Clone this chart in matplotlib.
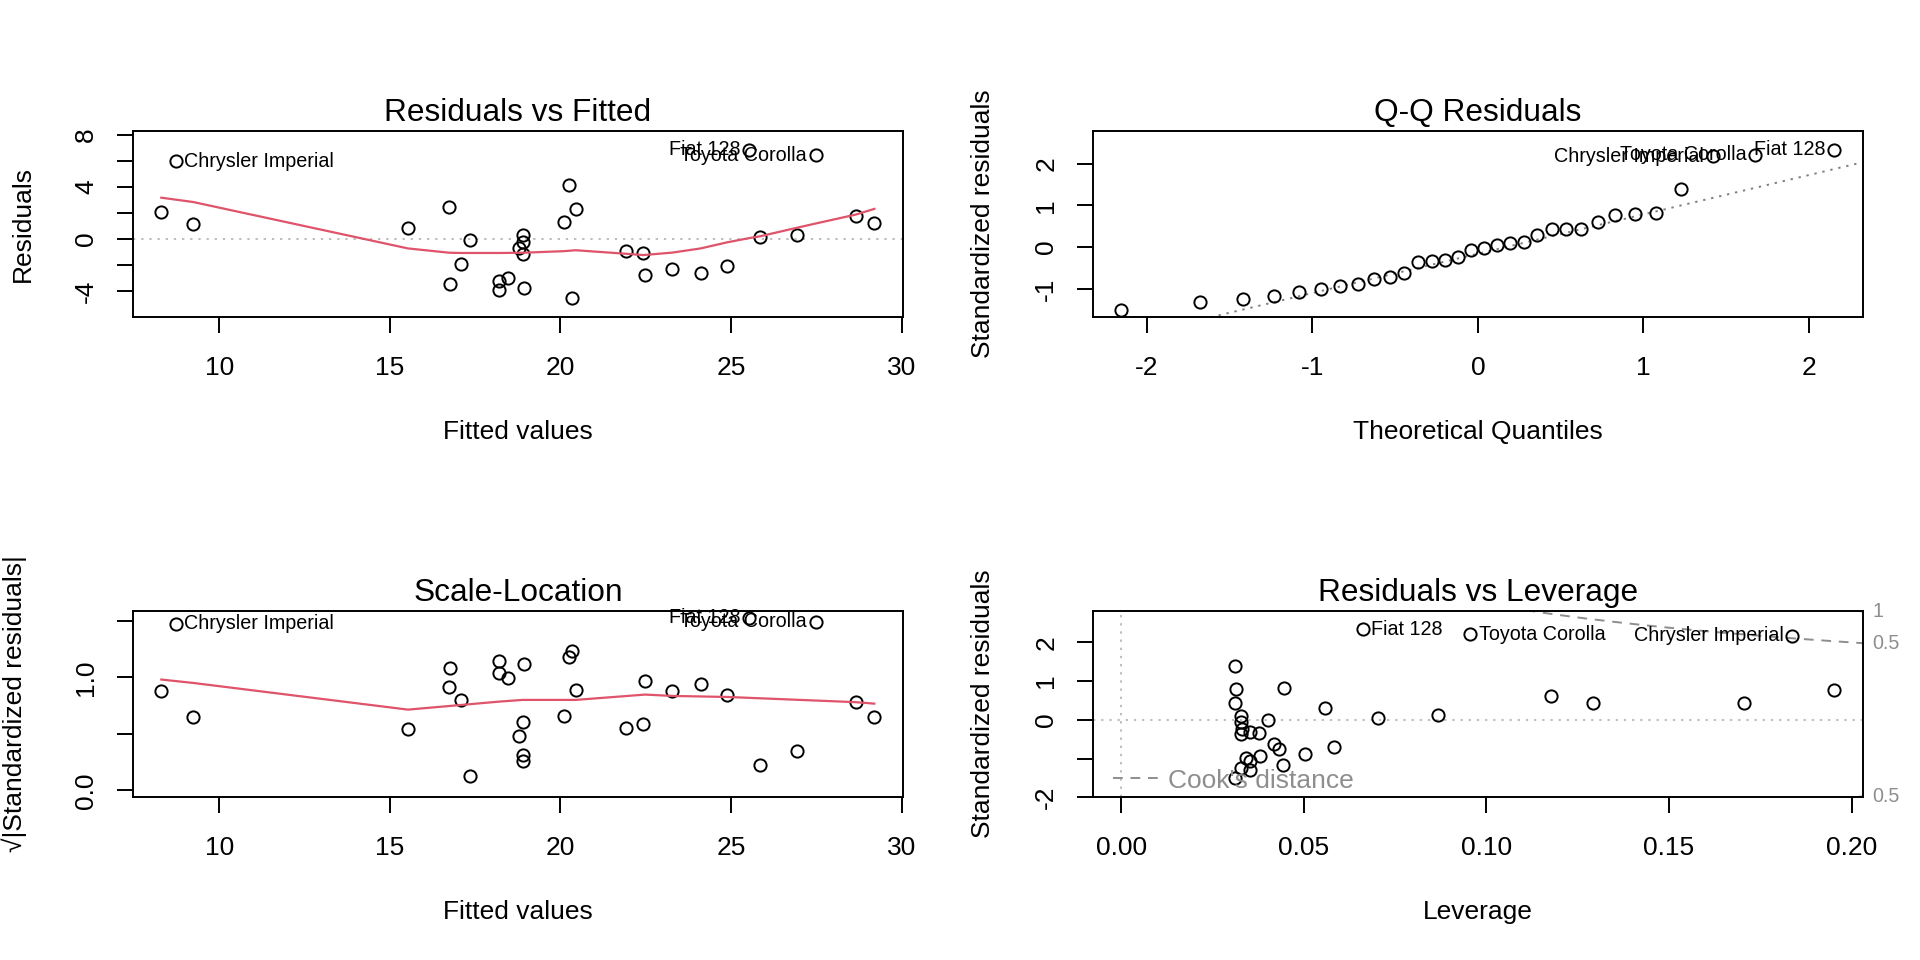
import numpy as np
import matplotlib
matplotlib.use('Agg')
import matplotlib.pyplot as plt
from matplotlib.lines import Line2D

plt.rcParams['font.family'] = ['Liberation Sans', 'DejaVu Sans']

# lm(mpg ~ wt, data = mtcars) diagnostics
cars = ['Mazda RX4', 'Mazda RX4 Wag', 'Datsun 710', 'Hornet 4 Drive', 'Hornet Sportabout',
        'Valiant', 'Duster 360', 'Merc 240D', 'Merc 230', 'Merc 280', 'Merc 280C',
        'Merc 450SE', 'Merc 450SL', 'Merc 450SLC', 'Cadillac Fleetwood', 'Lincoln Continental',
        'Chrysler Imperial', 'Fiat 128', 'Honda Civic', 'Toyota Corolla', 'Toyota Corona',
        'Dodge Challenger', 'AMC Javelin', 'Camaro Z28', 'Pontiac Firebird', 'Fiat X1-9',
        'Porsche 914-2', 'Lotus Europa', 'Ford Pantera L', 'Ferrari Dino', 'Maserati Bora',
        'Volvo 142E']
fitted = [23.283, 21.920, 24.886, 20.103, 18.900, 18.793, 18.205, 20.236, 20.450, 18.900,
          18.900, 15.533, 17.350, 17.083, 9.227, 8.297, 8.719, 25.527, 28.654, 27.478,
          24.111, 18.473, 18.927, 16.762, 16.736, 26.944, 25.848, 29.199, 20.343, 22.481,
          18.205, 22.427]
resid = [-2.283, -0.920, -2.086, 1.298, -0.200, -0.693, -3.905, 4.164, 2.350, 0.300,
         -1.100, 0.867, -0.050, -1.883, 1.174, 2.104, 5.981, 6.873, 1.746, 6.422,
         -2.611, -2.973, -3.727, -3.462, 2.465, 0.357, 0.152, 1.201, -4.543, -2.781,
         -3.205, -1.027]
std_resid = [-0.766, -0.307, -0.706, 0.433, -0.067, -0.231, -1.305, 1.389, 0.784, 0.100,
             -0.367, 0.293, -0.017, -0.632, 0.423, 0.770, 2.174, 2.335, 0.610, 2.217,
             -0.880, -0.993, -1.244, -1.163, 0.828, 0.123, 0.052, 0.423, -1.515, -0.931,
             -1.071, -0.344]
leverage = [0.0433, 0.0352, 0.0584, 0.0313, 0.0329, 0.0332, 0.0354, 0.0313, 0.0314, 0.0329,
            0.0329, 0.0558, 0.0401, 0.0419, 0.1705, 0.1953, 0.1838, 0.0661, 0.1178, 0.0956,
            0.0503, 0.0343, 0.0329, 0.0443, 0.0445, 0.0867, 0.0704, 0.1291, 0.0313, 0.0380,
            0.0354, 0.0377]
theo_q = [-2.154, -1.676, -1.418, -1.230, -1.078, -0.947, -0.830, -0.725, -0.626, -0.533,
          -0.445, -0.360, -0.278, -0.197, -0.118, -0.039, 0.039, 0.118, 0.197, 0.278,
          0.360, 0.445, 0.533, 0.626, 0.725, 0.830, 0.947, 1.078, 1.230, 1.418, 1.676, 2.154]
qq_intercept, qq_slope = -0.159, 0.943
ids = ['Fiat 128', 'Toyota Corolla', 'Chrysler Imperial']

# smoothers
rvf_smooth_x = [8.30, 9.23, 15.53, 16.74, 17.08, 18.21, 18.90, 20.10, 20.34, 20.45, 21.92,
                22.43, 23.28, 24.11, 24.89, 25.53, 25.85, 26.94, 27.48, 28.65, 29.20]
rvf_smooth_y = [3.18, 2.85, -0.71, -1.04, -1.06, -1.06, -1.04, -0.92, -0.87, -0.85, -1.12,
                -1.22, -1.03, -0.71, -0.24, 0.08, 0.22, 0.88, 1.20, 1.88, 2.32]
sl_smooth_x = [8.30, 9.23, 15.53, 17.08, 18.21, 18.90, 20.10, 20.45, 22.48, 23.28, 24.89,
               28.65, 29.20]
sl_smooth_y = [0.98, 0.95, 0.714, 0.755, 0.785, 0.80, 0.80, 0.80, 0.847, 0.835, 0.826,
               0.78, 0.767]
cook_levels = [0.5, 1.0]
n_par = 2

RED = '#DF536B'
GRAY = '#8E8E8E'
BASE = 19

fig = plt.figure(figsize=(19.2, 9.6), dpi=100)
pos = {'tl': [0.0691, 0.6695, 0.4012, 0.1944],
       'tr': [0.5691, 0.6695, 0.4012, 0.1944],
       'bl': [0.0691, 0.1695, 0.4012, 0.1944],
       'br': [0.5691, 0.1695, 0.4012, 0.1944]}


def style(ax, title, xlabel, ylabel, xt, xtl, yt, ytl, ypad=28):
    ax.set_title(title, fontsize=BASE * 1.2, pad=7)
    ax.set_xlabel(xlabel, fontsize=BASE, labelpad=29)
    ax.set_ylabel(ylabel, fontsize=BASE, labelpad=ypad)
    ax.set_xticks(xt, xtl, fontsize=BASE)
    ax.set_yticks(yt, ytl, fontsize=BASE, rotation=90, va='center')
    ax.tick_params(direction='out', length=11.5, width=1.4)
    ax.tick_params(axis='x', pad=16.5)
    ax.tick_params(axis='y', pad=13.3)
    for s in ax.spines.values():
        s.set_linewidth(1.4)


def points(ax, x, y):
    ax.plot(x, y, 'o', ms=8.8, mfc='none', mec='black', mew=1.4, ls='none')


def label_ids(ax, x, y, xmid):
    for name in ids:
        i = cars.index(name)
        right = x[i] <= xmid
        ax.annotate(name, (x[i], y[i]), xytext=(6.3 if right else -6.3, 0),
                    textcoords='offset points', ha='left' if right else 'right',
                    va='center', fontsize=BASE * 0.75)


dotted = dict(ls=(0, (1.2, 3)), lw=1.4)

# Residuals vs Fitted
ax = fig.add_axes(pos['tl'])
ax.axhline(0, color='#BEBEBE', **dotted)
points(ax, fitted, resid)
ax.plot(rvf_smooth_x, rvf_smooth_y, color=RED, lw=1.6)
ax.set_xlim(7.46, 30.04)
ax.set_ylim(-5.99, 8.32)
style(ax, 'Residuals vs Fitted', 'Fitted values', 'Residuals',
      [10, 15, 20, 25, 30], ['10', '15', '20', '25', '30'],
      [-4, -2, 0, 2, 4, 6, 8], ['-4', '', '0', '', '4', '', '8'])
label_ids(ax, fitted, resid, (min(fitted) + max(fitted)) / 2)

# Q-Q Residuals
order = np.argsort(std_resid)
qq_y = np.array(std_resid)[order]
qq_names = [cars[i] for i in order]
ax = fig.add_axes(pos['tr'])
ax.axline((0, qq_intercept), slope=qq_slope, color='#7F7F7F', **dotted)
points(ax, theo_q, qq_y)
ax.set_xlim(-2.326, 2.326)
ax.set_ylim(-1.681, 2.79)
style(ax, 'Q-Q Residuals', 'Theoretical Quantiles', 'Standardized residuals',
      [-2, -1, 0, 1, 2], ['-2', '-1', '0', '1', '2'],
      [-1, 0, 1, 2], ['-1', '0', '1', '2'])
for name in ids:
    i = qq_names.index(name)
    ax.annotate(name, (theo_q[i], qq_y[i]), xytext=(-6.3, 0), textcoords='offset points',
                ha='right', va='center', fontsize=BASE * 0.75)

# Scale-Location
sl_y = np.sqrt(np.abs(std_resid))
ax = fig.add_axes(pos['bl'])
points(ax, fitted, sl_y)
ax.plot(sl_smooth_x, sl_smooth_y, color=RED, lw=1.6)
ax.set_xlim(7.46, 30.04)
ax.set_ylim(-0.061, 1.589)
style(ax, 'Scale-Location', 'Fitted values', '\u221a|Standardized residuals|',
      [10, 15, 20, 25, 30], ['10', '15', '20', '25', '30'],
      [0, 0.5, 1.0, 1.5], ['0.0', '', '1.0', ''], ypad=34)
label_ids(ax, fitted, sl_y, (min(fitted) + max(fitted)) / 2)

# Residuals vs Leverage
ax = fig.add_axes(pos['br'])
xmax = 0.2031
ax.axhline(0, color='#BEBEBE', **dotted)
ax.axvline(0, color='#BEBEBE', **dotted)
hh = np.linspace(0.005, xmax, 200)
for lev in cook_levels:
    cr = np.sqrt(lev * n_par * (1 - hh) / hh)
    ax.plot(hh, cr, color=GRAY, lw=1.4, ls=(0, (5, 4)))
    ax.plot(hh, -cr, color=GRAY, lw=1.4, ls=(0, (5, 4)))
points(ax, leverage, std_resid)
ax.set_xlim(-0.0078, xmax)
ax.set_ylim(-2.002, 2.8215)
style(ax, 'Residuals vs Leverage', 'Leverage', 'Standardized residuals',
      [0.0, 0.05, 0.10, 0.15, 0.20], ['0.00', '0.05', '0.10', '0.15', '0.20'],
      [-2, -1, 0, 1, 2], ['-2', '', '0', '1', '2'])
label_ids(ax, leverage, std_resid, (min(leverage) + max(leverage)) / 2)
ymult = np.sqrt(n_par * (1 - xmax) / xmax)
ytr = ax.get_yaxis_transform()
for lev in cook_levels:
    for sgn in (1, -1):
        yv = sgn * np.sqrt(lev) * ymult
        if -2.002 <= yv <= 2.8215:
            ax.text(1.012, yv, '{:g}'.format(lev), transform=ytr, ha='left', va='center',
                    fontsize=BASE * 0.75, color=GRAY, clip_on=False)
h = [Line2D([], [], color=GRAY, lw=1.4, ls=(0, (5, 4)))]
leg = ax.legend(h, ["Cook's distance"], loc='lower left', bbox_to_anchor=(0.026, 0.025),
                borderaxespad=0, borderpad=0, frameon=False, fontsize=BASE,
                handlelength=1.9, handletextpad=0.2, labelcolor=GRAY)

fig.savefig('out.png', dpi=100)
